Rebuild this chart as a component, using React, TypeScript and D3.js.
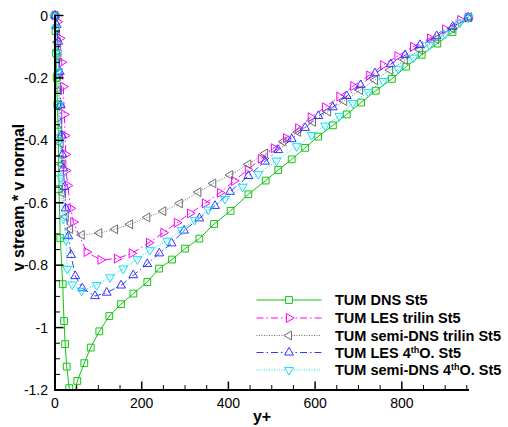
import React from 'react';
import * as d3 from 'd3';

// ---------- data ----------
const seriesNames = [
  'TUM DNS St5',
  'TUM LES trilin St5',
  'TUM semi-DNS trilin St5',
  'TUM LES 4thO. St5',
  'TUM semi-DNS 4thO. St5',
];

const dnsX = [0, 1.2, 2.5, 4, 5.5, 7.6, 8.4, 9.2, 12.2, 17.8, 20.8, 23.5, 27, 32.8, 41,
  51.4, 67.6, 82.4, 102.2, 125.3, 152.3, 180.7, 213, 240, 270, 300, 333, 367, 405, 446, 486,
  515, 546, 577, 607, 641, 673, 706, 740, 777, 810, 846, 882, 917, 953];
const dnsY = [0, -0.05, -0.12, -0.2, -0.285, -0.372, -0.46, -0.556, -0.713, -0.861, -0.979, -1.053, -1.125, -1.194, -1.235,
  -1.171, -1.114, -1.064, -1.012, -0.963, -0.925, -0.891, -0.854, -0.811, -0.782, -0.747, -0.715, -0.668, -0.626, -0.573, -0.529,
  -0.495, -0.461, -0.424, -0.388, -0.352, -0.317, -0.279, -0.241, -0.203, -0.164, -0.126, -0.09, -0.053, -0.009];

const lesTriX = [0, 6, 11.5, 15.5, 19.1, 21.5, 23.1, 24.7, 25.4, 29.3, 36.2, 42.2,
  73.1, 105, 143, 177, 217, 250, 281, 311.5, 346, 380.6, 413, 445, 475, 505, 533, 561, 590,
  623, 656, 688, 725, 757, 790, 826, 865, 900, 935, 953];
const lesTriY = [0, -0.02, -0.073, -0.15, -0.228, -0.317, -0.385, -0.445, -0.497, -0.545, -0.618, -0.662,
  -0.758, -0.783, -0.779, -0.762, -0.728, -0.696, -0.664, -0.634, -0.602, -0.568, -0.53, -0.494, -0.459, -0.425, -0.393, -0.361, -0.326,
  -0.294, -0.26, -0.226, -0.192, -0.159, -0.13, -0.1, -0.073, -0.044, -0.014, -0.006];

const semiTriX = [0, 3.5, 6, 7.6, 8.5, 9.2, 9.6, 9.9, 13, 15.5, 18.5, 24.7, 34.6,
  61.6, 102.2, 138.4, 173, 212.8, 249.7, 287.7, 330.6, 365, 404, 446, 484.4, 526.6, 560.6,
  595, 630, 667, 703.6, 738, 773, 807, 842, 879, 916, 955];
const semiTriY = [0, -0.04, -0.085, -0.132, -0.185, -0.239, -0.29, -0.345, -0.41, -0.477, -0.57, -0.645, -0.684,
  -0.703, -0.697, -0.685, -0.669, -0.647, -0.627, -0.602, -0.566, -0.538, -0.511, -0.477, -0.442, -0.404, -0.373,
  -0.341, -0.308, -0.274, -0.239, -0.207, -0.175, -0.143, -0.11, -0.076, -0.042, -0.005];

const les4X = [0, 4, 7.6, 11, 13, 15, 17, 19, 22, 24.7, 30.7, 37, 46.8, 63, 92.3,
  119.3, 152.3, 180.6, 212.9, 240.6, 269, 297.6, 333, 369, 403.7, 446, 484.4, 515, 546, 577,
  607.4, 640.6, 673, 705, 738, 774.4, 807.5, 842, 880.5, 917.4, 953.4];
const les4Y = [0, -0.03, -0.084, -0.18, -0.287, -0.383, -0.445, -0.49, -0.549, -0.618, -0.707, -0.767, -0.835, -0.874, -0.899,
  -0.888, -0.865, -0.832, -0.796, -0.762, -0.73, -0.689, -0.65, -0.61, -0.565, -0.514, -0.468, -0.431, -0.396, -0.36,
  -0.322, -0.294, -0.258, -0.223, -0.185, -0.156, -0.127, -0.0945, -0.066, -0.036, -0.006];

const semi4X = [0, 3, 6.2, 7.6, 9.2, 11.5, 13.5, 19.1, 25.4, 28.4, 40, 61.6, 96.2,
  127, 157.5, 190, 219, 259, 292, 322, 353.6, 392, 433, 469, 511, 557.5, 592, 623, 656, 687,
  722.7, 757, 792, 826.5, 863.4, 899.6, 934, 953.4];
const semi4Y = [0, -0.04, -0.121, -0.18, -0.287, -0.4, -0.52, -0.65, -0.719, -0.812, -0.862, -0.882, -0.864,
  -0.839, -0.811, -0.781, -0.751, -0.722, -0.687, -0.655, -0.622, -0.588, -0.549, -0.508, -0.465, -0.419, -0.383, -0.353, -0.322, -0.281,
  -0.245, -0.21, -0.171, -0.135, -0.0945, -0.059, -0.023, -0.006];

const xTicksMajor = [0, 200, 400, 600, 800];
const yTicksMajor = [0, -0.2, -0.4, -0.6, -0.8, -1, -1.2];
const yTickLabels = ['0', '-0.2', '-0.4', '-0.6', '-0.8', '-1', '-1.2'];

// ---------- styling ----------
const W = 508, H = 427;
const left = 55, right = 469, top = 15.5, bottom = 390;
const FONT = '"Liberation Sans", Arial, Helvetica, sans-serif';

type Marker = 'square' | 'right' | 'left' | 'up' | 'down';
const styles: { color: string; dash: string; marker: Marker }[] = [
  { color: '#11c611', dash: '', marker: 'square' },
  { color: '#ff00ff', dash: '7,3,1.5,3', marker: 'right' },
  { color: '#6e6e6e', dash: '1,1.5', marker: 'left' },
  { color: '#3535ff', dash: '7,3,1.5,3', marker: 'up' },
  { color: '#12e0f5', dash: '1,1.5', marker: 'down' },
];

const allX = [dnsX, lesTriX, semiTriX, les4X, semi4X];
const allY = [dnsY, lesTriY, semiTriY, les4Y, semi4Y];

function markerPath(m: Marker): string {
  if (m === 'square') return d3.symbol(d3.symbolSquare, 46)() as string;
  return d3.symbol(d3.symbolTriangle, 34)() as string;
}
function markerRot(m: Marker): number {
  return m === 'right' ? 90 : m === 'left' ? -90 : m === 'down' ? 180 : 0;
}

export default function App() {
  const x = d3.scaleLinear().domain([0, 955]).range([left, right]);
  const y = d3.scaleLinear().domain([-1.2, 0]).range([bottom, top]);
  const line = d3.line<[number, number]>().x(d => x(d[0])).y(d => y(d[1]));

  const xMinor = d3.range(0, 951, 50);
  const yMinor = d3.range(0, 25).map(i => -i * 0.05);

  const legendY = [300, 318, 335.5, 352.5, 370];

  return (
    <svg width={W} height={H} style={{ position: 'absolute', left: 0, top: 0, background: '#fff' }}
      fontFamily={FONT}>
      <defs>
        <clipPath id="plotclip">
          <rect x={left - 10} y={0} width={right - left + 30} height={bottom} />
        </clipPath>
      </defs>

      {/* series */}
      <g clipPath="url(#plotclip)">
        {allX.map((xs, si) => {
          const pts = xs.map((v, i) => [v, allY[si][i]] as [number, number]);
          const st = styles[si];
          return (
            <g key={si}>
              <path d={line(pts) as string} fill="none" stroke={st.color} strokeWidth={1}
                strokeDasharray={st.dash || undefined} />
              {pts.map((p, i) => (
                <path key={i} d={markerPath(st.marker)}
                  transform={`translate(${x(p[0])},${y(p[1])}) rotate(${markerRot(st.marker)})`}
                  fill="none" stroke={st.color} strokeWidth={1} />
              ))}
            </g>
          );
        })}
      </g>

      {/* axes */}
      <g stroke="#000">
        <line x1={left} x2={left} y1={top - 1} y2={bottom + 1} strokeWidth={2} />
        <line x1={left - 1} x2={right} y1={bottom} y2={bottom} strokeWidth={2} />
        {xMinor.map(v => {
          const major = v % 200 === 0;
          return <line key={'xm' + v} x1={x(v)} x2={x(v)} y1={bottom} y2={bottom - (major ? 8.5 : 5)}
            strokeWidth={major ? 1.5 : 1} />;
        })}
        {yMinor.map((v, i) => {
          const major = i % 4 === 0;
          return <line key={'ym' + i} x1={left} x2={left + (major ? 8.5 : 5)} y1={y(v)} y2={y(v)}
            strokeWidth={major ? 1.5 : 1} />;
        })}
      </g>

      {/* tick labels */}
      <g fontSize={14} fill="#000">
        {xTicksMajor.map(v => (
          <text key={'xl' + v} x={x(v)} y={407.5} textAnchor="middle">{v}</text>
        ))}
        {yTicksMajor.map((v, i) => (
          <text key={'yl' + i} x={48} y={y(v) + 5} textAnchor="end">{yTickLabels[i]}</text>
        ))}
      </g>

      {/* axis titles */}
      <text x={262} y={422} textAnchor="middle" fontWeight="bold" fontSize={16}>y+</text>
      <text transform="translate(23.5,197.5) rotate(-90)" textAnchor="middle" fontWeight="bold" fontSize={16}>
        v stream * v normal
      </text>

      {/* legend */}
      <g>
        {seriesNames.map((name, i) => {
          const st = styles[i];
          const ly = legendY[i];
          const is4 = name.includes('4thO.');
          const parts = name.split('4thO.');
          return (
            <g key={'lg' + i}>
              <line x1={256.5} x2={321.5} y1={ly} y2={ly} stroke={st.color} strokeWidth={1}
                strokeDasharray={st.dash || undefined} />
              <path d={markerPath(st.marker)} transform={`translate(289,${ly}) rotate(${markerRot(st.marker)})`}
                fill="#fff" stroke={st.color} strokeWidth={1} />
              <text x={335} y={ly + 5} fontWeight="bold" fontSize={14.5} fill="#000">
                {is4 ? (
                  <>
                    {parts[0] + '4'}
                    <tspan dy={-5} fontSize={9}>th</tspan>
                    <tspan dy={5}>{'O.' + parts[1]}</tspan>
                  </>
                ) : name}
              </text>
            </g>
          );
        })}
      </g>
    </svg>
  );
}
